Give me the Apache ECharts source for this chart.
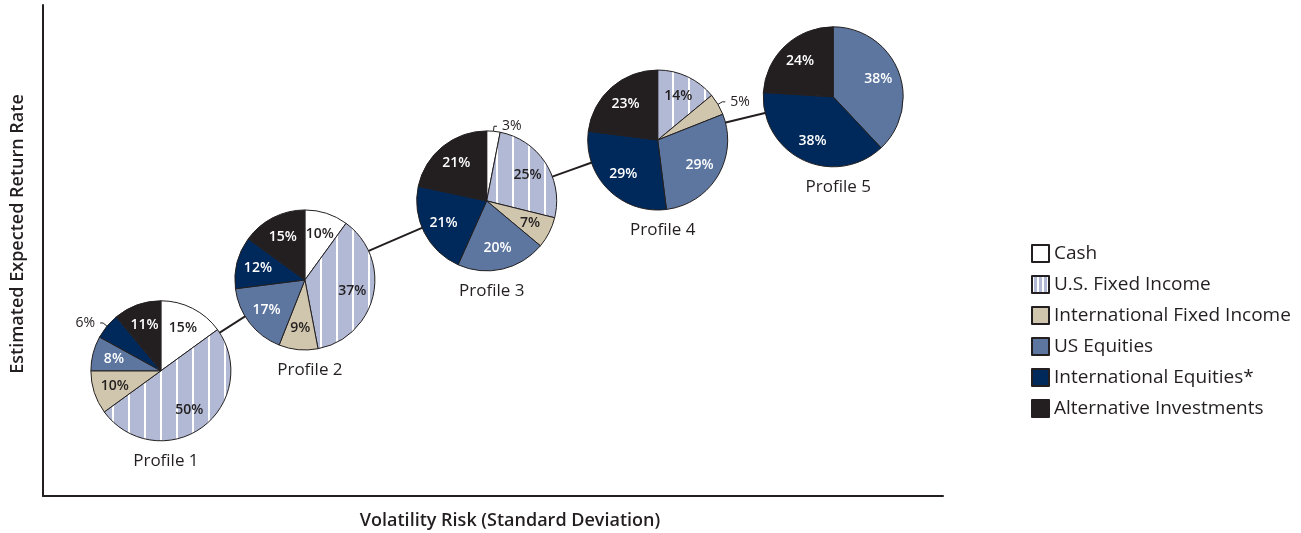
<!DOCTYPE html>
<html>
<head>
<meta charset="utf-8">
<script src="https://cdn.jsdelivr.net/npm/echarts@6/dist/echarts.min.js"></script>
<style>
  html, body { margin: 0; background: #fff; }
  #chart { width: 1301px; height: 533px; }
</style>
</head>
<body>
<div id="chart"></div>
<script>
const categories = ['Cash', 'U.S. Fixed Income', 'International Fixed Income', 'US Equities', 'International Equities*', 'Alternative Investments']
const profiles = ['Profile 1', 'Profile 2', 'Profile 3', 'Profile 4', 'Profile 5']
// position of each profile on the risk / return plane (arbitrary units 0-100)
const risk = [13.1, 29.1, 49.3, 68.3, 87.8]
const expReturn = [25.5, 44.0, 60.1, 72.5, 81.3]
// allocation per profile, in category order
const mix = [
  [15, 50, 10, 8, 6, 11],
  [10, 37, 9, 17, 12, 15],
  [3, 25, 7, 20, 21, 21],
  [0, 14, 5, 29, 29, 23],
  [0, 0, 0, 38, 38, 24]
]
// small slices whose label sits outside: [profile, category]
const outsideLabels = [[0, 4], [2, 0], [3, 2]]

const ink = '#231f20'
const font = '"Open Sans", "Noto Sans", sans-serif'

function stripes (w, stripe) {
  const c = document.createElement('canvas')
  c.width = w
  c.height = 8
  const ctx = c.getContext('2d')
  ctx.fillStyle = '#b1b9d4'
  ctx.fillRect(0, 0, w, 8)
  ctx.fillStyle = '#ffffff'
  ctx.fillRect(0, 0, stripe, 8)
  return { image: c, repeat: 'repeat' }
}

const colors = ['#ffffff', stripes(16, 2), '#d0c6ad', '#5c76a0', '#00295b', ink]
const legendColors = ['#ffffff', stripes(5, 2), '#d0c6ad', '#5c76a0', '#00295b', ink]
const darkText = [true, true, true, false, false, false]

const chart = echarts.init(document.getElementById('chart'))

const baseSeries = [
  {
    type: 'line',
    data: risk.map((x, i) => [x, expReturn[i]]),
    smooth: 0.15,
    showSymbol: false,
    lineStyle: { color: ink, width: 2 },
    z: 1
  },
  {
    type: 'scatter',
    data: risk.map((x, i) => [x, expReturn[i]]),
    symbolSize: 0,
    itemStyle: { color: ink },
    label: {
      show: true,
      position: 'bottom',
      distance: 0,
      offset: [5, 82],
      formatter: p => profiles[p.dataIndex],
      fontSize: 17,
      color: ink,
      opacity: 1,
      textBorderWidth: 0,
      fontFamily: font
    },
    emphasis: { disabled: true },
    z: 1
  }
]

chart.setOption({
  animation: false,
  grid: { left: 43, right: 358, top: 5, bottom: 37 },
  xAxis: {
    type: 'value', min: 0, max: 100,
    axisLine: { show: true, lineStyle: { color: ink, width: 2 } },
    axisTick: { show: false }, axisLabel: { show: false }, splitLine: { show: false }
  },
  yAxis: {
    type: 'value', min: 0, max: 100,
    axisLine: { show: true, lineStyle: { color: ink, width: 2 } },
    axisTick: { show: false }, axisLabel: { show: false }, splitLine: { show: false }
  },
  legend: {
    orient: 'vertical',
    left: 1026,
    top: 239,
    itemWidth: 17,
    itemHeight: 17,
    itemGap: 12,
    icon: 'rect',
    selectedMode: false,
    itemStyle: { borderColor: ink, borderWidth: 2 },
    textStyle: { fontSize: 19, color: ink, fontFamily: font },
    data: categories.map((name, i) => ({ name, itemStyle: { color: legendColors[i] } }))
  },
  graphic: [
    {
      type: 'text', x: 510, y: 521,
      style: { text: 'Volatility Risk (Standard Deviation)', align: 'center', verticalAlign: 'middle', fill: ink, font: '600 18px ' + font }
    },
    {
      type: 'text', x: 18, y: 234, rotation: Math.PI / 2,
      style: { text: 'Estimated Expected Return Rate', align: 'center', verticalAlign: 'middle', fill: ink, font: '600 18px ' + font }
    }
  ],
  series: baseSeries
})

const pieRadius = 70
const pies = []
profiles.forEach((name, p) => {
  const center = chart.convertToPixel({ gridIndex: 0 }, [risk[p], expReturn[p]])
  const slices = []
  const ghost = []
  mix[p].forEach((v, c) => {
    if (!v) return
    const outside = outsideLabels.some(o => o[0] === p && o[1] === c)
    slices.push({
      name: categories[c],
      value: v,
      itemStyle: { color: colors[c] },
      label: { show: outside },
      labelLine: { show: outside, length: 5, length2: 3, lineStyle: { color: ink, width: 1 } }
    })
    ghost.push({
      name: categories[c],
      value: v,
      label: { show: !outside, color: darkText[c] ? ink : '#ffffff' }
    })
  })
  pies.push({
    type: 'pie',
    name,
    center,
    radius: pieRadius,
    startAngle: 90,
    avoidLabelOverlap: false,
    itemStyle: { borderColor: ink, borderWidth: 1 },
    label: { position: 'outside', formatter: '{c}%', fontSize: 14, color: ink, fontFamily: font },
    emphasis: { disabled: true },
    data: slices,
    z: 3
  })
  // transparent twin pie that only carries the inside labels, set further from the centre
  pies.push({
    type: 'pie',
    name: name + ' labels',
    center,
    radius: pieRadius * 1.3,
    startAngle: 90,
    silent: true,
    avoidLabelOverlap: false,
    itemStyle: { color: 'rgba(0,0,0,0)', borderWidth: 0 },
    label: { position: 'inside', formatter: '{c}%', fontSize: 14, fontWeight: 600, fontFamily: font, textBorderWidth: 0 },
    labelLine: { show: false },
    emphasis: { disabled: true },
    data: ghost,
    z: 4
  })
})

chart.setOption({ series: baseSeries.concat(pies) })
</script>
</body>
</html>
